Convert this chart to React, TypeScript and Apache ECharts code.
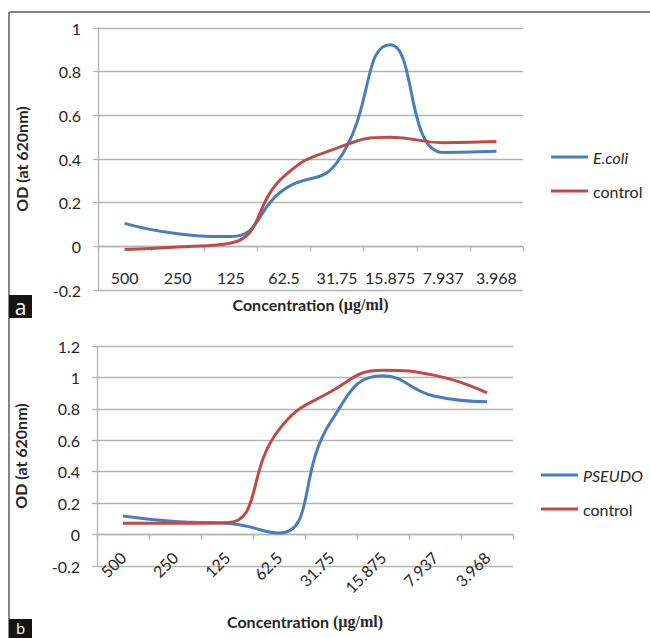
import React, { useEffect, useRef } from 'react';
import * as echarts from 'echarts';

const categories = ['500', '250', '125', '62.5', '31.75', '15.875', '7.937', '3.968'];
const ecoliValues = [0.105, 0.058, 0.045, 0.26, 0.385, 0.923, 0.43, 0.435];
const controlAValues = [-0.015, -0.003, 0.015, 0.32, 0.45, 0.5, 0.475, 0.48];
const pseudoValues = [0.118, 0.083, 0.072, 0.01, 0.72, 1.01, 0.88, 0.845];
const controlBValues = [0.072, 0.072, 0.075, 0.668, 0.91, 1.045, 1.013, 0.902];

const yRangeA = { min: -0.2, max: 1, interval: 0.2 };
const yRangeB = { min: -0.2, max: 1.2, interval: 0.2 };

const BLUE = '#4a7ebb';
const RED = '#be4b48';
const GRID = '#b4b4b4';
const TEXT = '#262626';
const FONT = 'Lato, "Open Sans", sans-serif';

const W = 650;
const H = 638;
const gridA = { left: 98, right: 127, top: 28, bottom: 348 };
const gridB = { left: 97, right: 137, top: 346, bottom: 72 };

// offset that places the category axis on the value 0 line
function zeroOffset(grid: typeof gridA, range: { min: number; max: number }) {
  const h = H - grid.top - grid.bottom;
  return -h * ((0 - range.min) / (range.max - range.min));
}

function makeXAxis(gridIndex: number, rotate: number, margin: number, nameGap: number, offset: number) {
  return {
    type: 'category',
    gridIndex,
    data: categories,
    boundaryGap: true,
    offset,
    axisLine: { onZero: false, lineStyle: { color: GRID, width: 1.3 } },
    axisTick: { show: true, length: 5, interval: 0, lineStyle: { color: GRID, width: 1.3 } },
    axisLabel: { interval: 0, margin, rotate, fontSize: 16, color: TEXT, fontFamily: FONT },
    name: 'Concentration {s|(µg/ml)}',
    nameLocation: 'middle',
    nameGap,
    nameTextStyle: {
      fontSize: 16,
      fontWeight: 'bold',
      color: TEXT,
      fontFamily: FONT,
      rich: {
        s: { fontSize: 16, fontWeight: 'bold', color: TEXT, fontFamily: '"Liberation Serif", serif' },
      },
    },
  };
}

function makeYAxis(gridIndex: number, range: { min: number; max: number; interval: number }) {
  return {
    type: 'value',
    gridIndex,
    min: range.min,
    max: range.max,
    interval: range.interval,
    axisLine: { show: true, lineStyle: { color: GRID, width: 1.3 } },
    axisTick: { show: true, length: 5, lineStyle: { color: GRID, width: 1.3 } },
    splitLine: { show: true, lineStyle: { color: GRID, width: 1.3 } },
    axisLabel: { margin: 17, fontSize: 16, color: TEXT, fontFamily: FONT },
    name: 'OD (at 620nm)',
    nameLocation: 'middle',
    nameGap: 69,
    nameTextStyle: { fontSize: 16, fontWeight: 'bold', color: TEXT, fontFamily: FONT },
  };
}

function makeLegend(names: string[], left: number, top: number) {
  return {
    data: names,
    orient: 'vertical',
    left,
    top,
    padding: 0,
    icon: 'rect',
    itemWidth: 37,
    itemHeight: 3,
    itemGap: 18,
    formatter: (n: string) => (n === 'control' ? n : `{i|${n}}`),
    textStyle: {
      fontSize: 16,
      color: TEXT,
      fontFamily: FONT,
      rich: { i: { fontSize: 16, fontStyle: 'italic', color: TEXT, fontFamily: FONT } },
    },
  };
}

function lineSeries(name: string, data: number[], color: string, idx: number) {
  return {
    type: 'line',
    name,
    data,
    xAxisIndex: idx,
    yAxisIndex: idx,
    smooth: 0.5,
    symbol: 'none',
    lineStyle: { color, width: 3 },
    itemStyle: { color },
  };
}

export default function App() {
  const ref = useRef<HTMLDivElement>(null);
  useEffect(() => {
    if (!ref.current) return;
    const chart = echarts.init(ref.current, null, { renderer: 'svg' });
    chart.setOption({
      animation: false,
      backgroundColor: '#ffffff',
      grid: [gridA, gridB],
      xAxis: [
        makeXAxis(0, 0, 23, 50, zeroOffset(gridA, yRangeA)),
        makeXAxis(1, 45, 20, 79, zeroOffset(gridB, yRangeB)),
      ],
      yAxis: [makeYAxis(0, yRangeA), makeYAxis(1, yRangeB)],
      legend: [makeLegend(['E.coli', 'control'], 551, 149), makeLegend(['PSEUDO', 'control'], 541, 467)],
      series: [
        lineSeries('E.coli', ecoliValues, BLUE, 0),
        lineSeries('control', controlAValues, RED, 0),
        lineSeries('PSEUDO', pseudoValues, BLUE, 1),
        lineSeries('control', controlBValues, RED, 1),
      ],
      graphic: [
        { type: 'line', shape: { x1: 9, y1: 12, x2: 650, y2: 12 }, style: { stroke: '#858585', lineWidth: 2 } },
        { type: 'line', shape: { x1: 9, y1: 12, x2: 9, y2: 638 }, style: { stroke: '#858585', lineWidth: 2 } },
        { type: 'rect', shape: { x: 9, y: 295, width: 23, height: 23 }, style: { fill: '#141414' } },
        {
          type: 'text', x: 20.5, y: 306.5,
          style: { text: 'a', fill: '#ffffff', font: '21px "Open Sans", sans-serif', textAlign: 'center', textVerticalAlign: 'middle' },
        },
        { type: 'rect', shape: { x: 9, y: 619, width: 23, height: 19 }, style: { fill: '#141414' } },
        {
          type: 'text', x: 20.5, y: 627.5,
          style: { text: 'b', fill: '#ffffff', font: '15px "Open Sans", sans-serif', textAlign: 'center', textVerticalAlign: 'middle' },
        },
      ],
    });
    return () => chart.dispose();
  }, []);
  return <div ref={ref} style={{ position: 'absolute', left: 0, top: 0, width: W, height: H }} />;
}
